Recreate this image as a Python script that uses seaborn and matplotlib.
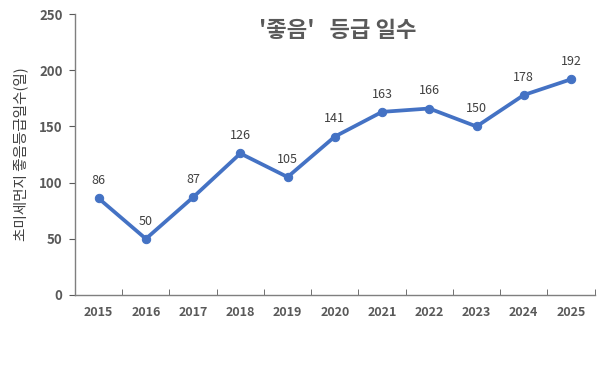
import numpy as np
import matplotlib
matplotlib.use("Agg")
import matplotlib.pyplot as plt
import seaborn as sns

years = ["2015", "2016", "2017", "2018", "2019", "2020", "2021", "2022", "2023", "2024", "2025"]
good_days = [86, 50, 87, 126, 105, 141, 163, 166, 150, 178, 192]
title = "'좋음'   등급 일수"
ylabel = "초미세먼지 좋음등급일수(일)"

sns.set_style("white")
plt.rcParams['font.family'] = ['Noto Sans CJK KR', 'DejaVu Sans']

fig = plt.figure(figsize=(6.07, 3.72), dpi=100)
ax = fig.add_axes([0.1236, 0.207, 0.856, 0.755])

pos = np.arange(len(years))
sns.lineplot(x=pos, y=good_days, ax=ax, color="#4472C4", linewidth=2.7,
             marker="o", markersize=6, markeredgecolor="#4472C4")

for x, v in zip(pos, good_days):
    ax.annotate(str(v), (x, v), xytext=(0, 8), textcoords="offset points",
                ha="center", va="bottom", fontsize=9, color="#404040")

ax.set_xlim(-0.5, len(years) - 0.5)
ax.set_ylim(0, 250)
ax.set_yticks(range(0, 251, 50))
ax.set_xticks(pos)
ax.set_xticklabels(years)
ax.set_xticks(np.arange(-0.5, len(years), 1), minor=True)
ax.tick_params(axis="x", which="major", length=0, pad=8, labelsize=9, labelcolor="#595959")
ax.tick_params(axis="x", which="minor", direction="in", length=4, color="#595959", bottom=True)
ax.tick_params(axis="y", direction="out", length=4, left=True, color="#595959",
               labelsize=9.5, labelcolor="#595959", pad=5)
for lab in ax.get_xticklabels() + ax.get_yticklabels():
    lab.set_fontweight("bold")

for s in ["top", "right"]:
    ax.spines[s].set_visible(False)
for s in ["left", "bottom"]:
    ax.spines[s].set_color("#7f7f7f")
    ax.spines[s].set_linewidth(1)

ax.set_ylabel(ylabel, fontsize=10.5, color="#404040", labelpad=8)
ax.text(0.505, 0.94, title, transform=ax.transAxes, ha="center", va="center",
        fontsize=16, fontweight="bold", color="#595959")

fig.savefig("out.png", dpi=100)
